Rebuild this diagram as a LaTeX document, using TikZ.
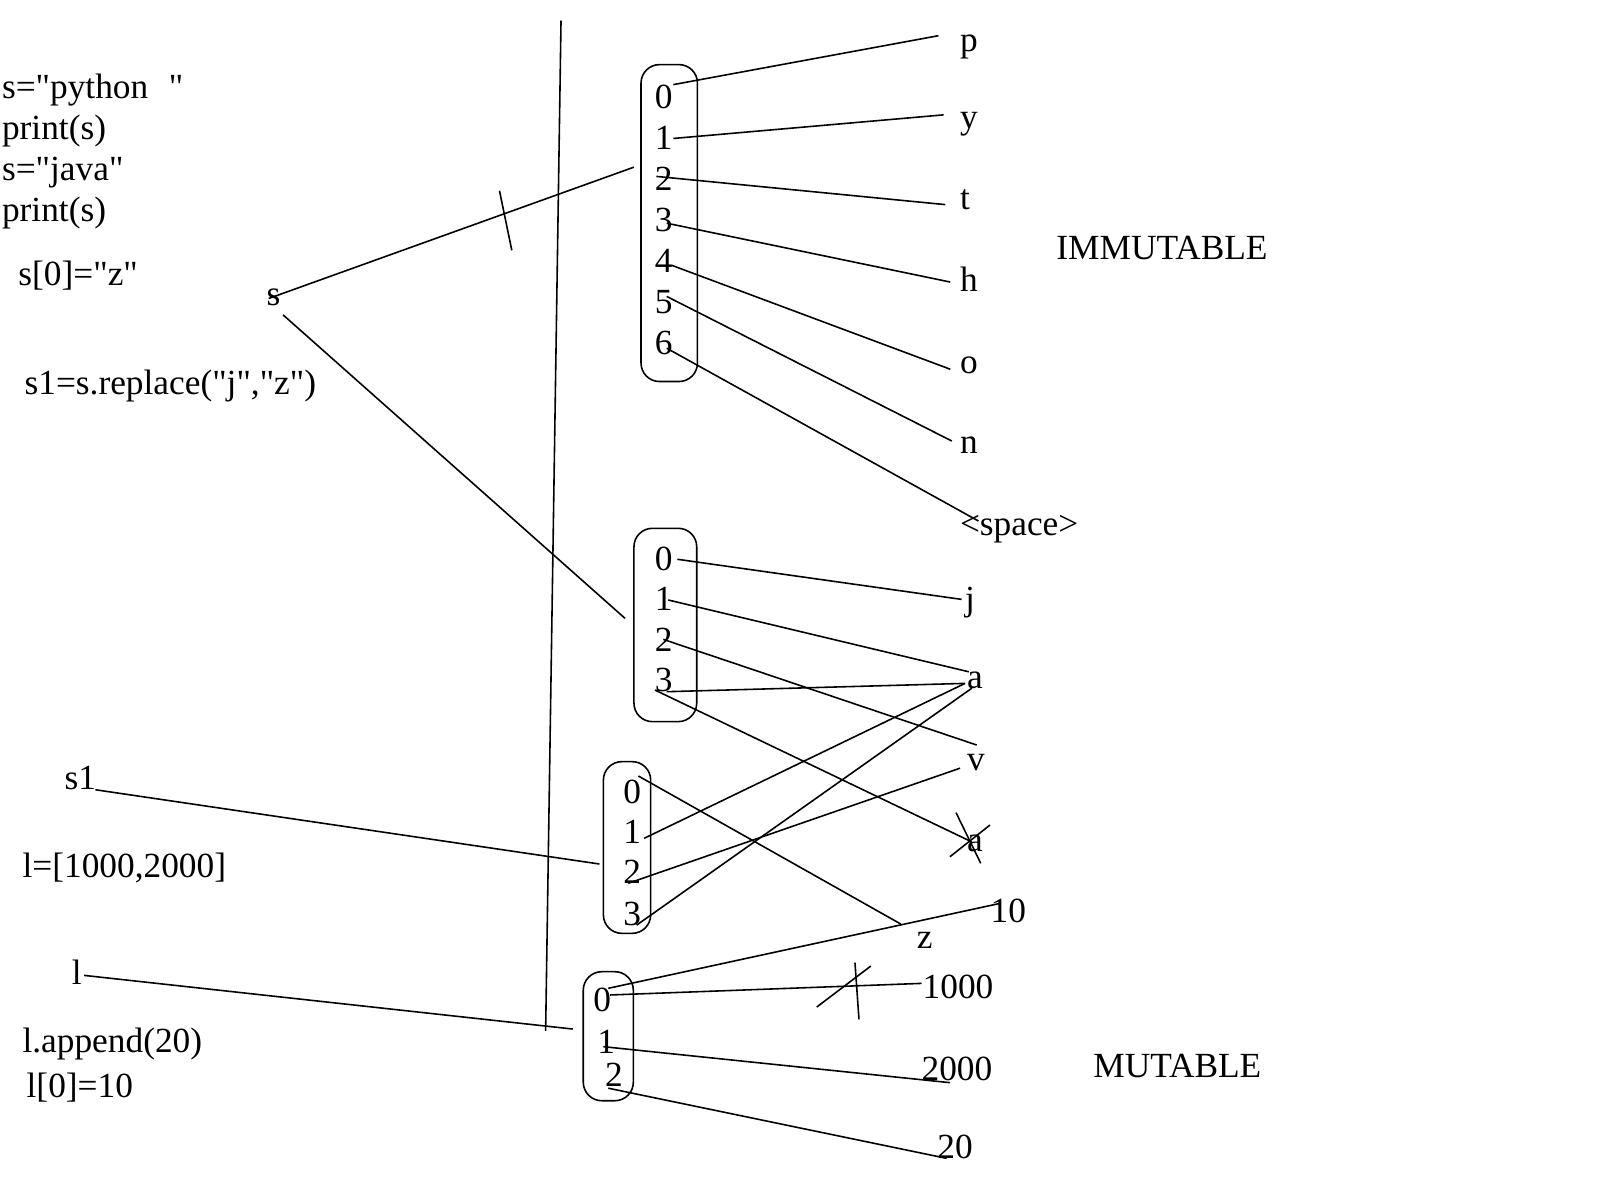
\documentclass[tikz,border=0pt]{standalone}
\usepackage{fontspec}
\setmainfont[Ligatures=TeXOff]{Liberation Serif}
\begin{document}
\begin{tikzpicture}[x=0.025cm,y=-0.025cm,
  txt/.style={inner sep=0pt,outer sep=0pt,anchor=base west,font=\fontsize{24.5}{29}\selectfont},
  link/.style={line width=1.1pt},
  box/.style={line width=1.1pt,rounded corners=0.45cm}]
\useasboundingbox (0,0) rectangle (1560,1170);

% ---- code text on the left
\node[txt] (c1) at (2,96) {s="python\hspace{0.5cm}"};
\node[txt] (c2) at (2,136) {print(s)};
\node[txt] (c3) at (2,176) {s="java"};
\node[txt] (c4) at (2,216) {print(s)};
\node[txt] (c5) at (18,278) {s[0]="z"};
\node[txt] (s) at (260,298) {s};
\node[txt] (c6) at (24,385) {s1=s.replace("j","z")};
\node[txt] (s1) at (63,770) {s1};
\node[txt] (c7) at (22,856) {l=[1000,2000]};
\node[txt] (l) at (70,960) {l};
\node[txt] (c8) at (22,1026) {l.append(20)};
\node[txt] (c9) at (26,1070) {l[0]=10};

% ---- separator line
\coordinate (vt) at (547,20);
\coordinate (vb) at (532,1005);
\draw[link] (vt) -- (vb);

% ---- box 1 : "python "
\draw[box] (625,63) rectangle (680,372);
\foreach \i/\yy in {0/106,1/146,2/186,3/226,4/266,5/306,6/346}
  \node[txt] (a\i) at (638.6,\yy) {\i};
\node[txt] (p) at (936,50.5) {p};
\node[txt] (y) at (936,125) {y};
\node[txt] (t) at (936,204) {t};
\node[txt] (h) at (936,284) {h};
\node[txt] (o) at (936,364) {o};
\node[txt] (n) at (936,442) {n};
\node[txt] (sp) at (936,522) {<space>};
\node[txt] (imm) at (1030,253) {IMMUTABLE};

\coordinate (a0e) at (656.5,82.5);  \coordinate (pe) at (915,34.8);
\coordinate (a1e) at (656.5,135);   \coordinate (ye) at (920,112);
\coordinate (a2e) at (640,172);     \coordinate (te) at (921.6,199.5);
\coordinate (a3e) at (650,217.6);   \coordinate (he) at (926.5,275);
\coordinate (a4e) at (655,258.7);   \coordinate (oe) at (926.5,360);
\coordinate (a5e) at (650,289);     \coordinate (ne) at (928,430);
\coordinate (a6e) at (650,339.5);   \coordinate (spe) at (954,508);
\draw[link] (a0e) -- (pe);
\draw[link] (a1e) -- (ye);
\draw[link] (a2e) -- (te);
\draw[link] (a3e) -- (he);
\draw[link] (a4e) -- (oe);
\draw[link] (a5e) -- (ne);
\draw[link] (a6e) -- (spe);

% ---- s references
\coordinate (sA) at (262,291);   \coordinate (sB) at (618,163);
\draw[link] (sA) -- (sB);
\coordinate (tk1) at (487,186);  \coordinate (tk2) at (499,244);
\draw[link] (tk1) -- (tk2);
\coordinate (sC) at (276,307);   \coordinate (sD) at (609.4,602.9);
\draw[link] (sC) -- (sD);

% ---- box 2 : "java"
\draw[box] (618.1,515.1) rectangle (679.3,703.6);
\foreach \i/\yy in {0/556.4,1/595.7,2/635.4,3/674.4}
  \node[txt] (b\i) at (638.6,\yy) {\i};
\node[txt] (j) at (940.9,594.8) {j};
\node[txt] (aa) at (943,671) {a};
\node[txt] (v) at (943,750.75) {v};
\node[txt] (ax) at (943,830.4) {a};

\coordinate (b0e) at (660.4,545.3);  \coordinate (je) at (937.6,584.4);
\coordinate (b1e) at (651.6,585);    \coordinate (aa1) at (944.6,655);
\coordinate (b2e) at (646.7,623.4);  \coordinate (ve1) at (952.3,726.4);
\coordinate (b3e) at (650,674.4);    \coordinate (aa2) at (940.9,666.3);
\coordinate (b3f) at (638.6,672.8);  \coordinate (axe) at (947.4,820.8);
\draw[link] (b0e) -- (je);
\draw[link] (b1e) -- (aa1);
\draw[link] (b2e) -- (ve1);
\draw[link] (b3e) -- (aa2);
\draw[link] (b3f) -- (axe);
% cross over the last "a"
\coordinate (x1a) at (932.1,792.3); \coordinate (x1b) at (956.2,841.7);
\coordinate (x2a) at (926.2,835.3); \coordinate (x2b) at (965.2,804.4);
\draw[link] (x1a) -- (x1b);
\draw[link] (x2a) -- (x2b);

% ---- box 3 : "zava"
\draw[box] (588.3,742.6) rectangle (634.4,910);
\foreach \i/\yy in {0/783,1/822,2/861,3/902}
  \node[txt] (d\i) at (607.8,\yy) {\i};
\node[txt] (z) at (894,925) {z};
\coordinate (d0e) at (622.4,756.6); \coordinate (ze) at (878.2,900.9);
\coordinate (d1e) at (628,817.4);   \coordinate (aa3) at (940.9,666.3);
\coordinate (d2e) at (612.6,861.2); \coordinate (ve2) at (936,749);
\coordinate (d3e) at (620.7,902);   \coordinate (aa4) at (947.4,671.1);
\draw[link] (d0e) -- (ze);
\draw[link] (d1e) -- (aa3);
\draw[link] (d2e) -- (ve2);
\draw[link] (d3e) -- (aa4);

\coordinate (s1e) at (93,770);  \coordinate (s1f) at (584.4,842.4);
\draw[link] (s1e) -- (s1f);

% ---- box 4 : list
\draw[box] (568.7,947.4) rectangle (617.5,1073.2);
\node[txt] (e0) at (578.5,986.4) {0};
\node[txt] (e1) at (582.4,1027) {1};
\node[txt] (e2) at (589.9,1059.5) {2};
\node[txt] (ten) at (965.9,899.6) {10};
\node[txt] (k1) at (899.6,973.4) {1000};
\node[txt] (k2) at (898.6,1053) {2000};
\node[txt] (k20) at (913.9,1129.4) {20};
\node[txt] (mut) at (1066,1051) {MUTABLE};

\coordinate (e0a) at (593.1,963.6);  \coordinate (tene) at (975,880.8);
\coordinate (e0b) at (594.8,970.1);  \coordinate (k1e) at (898.6,958.8);
\coordinate (e1e) at (588.3,1020.5); \coordinate (k2e) at (926.3,1055.6);
\coordinate (e2e) at (593.1,1061);   \coordinate (k20e) at (923,1129.4);
\draw[link] (e0a) -- (tene);
\draw[link] (e0b) -- (k1e);
\draw[link] (e1e) -- (k2e);
\draw[link] (e2e) -- (k20e);
% cross over the 1000 link
\coordinate (y1a) at (796.3,981.9); \coordinate (y1b) at (849,941.9);
\coordinate (y2a) at (833.6,938.6); \coordinate (y2b) at (837.5,993.9);
\draw[link] (y1a) -- (y1b);
\draw[link] (y2a) -- (y2b);

\coordinate (le) at (82,951);  \coordinate (lf) at (558.4,1003.3);
\draw[link] (le) -- (lf);
\end{tikzpicture}
\end{document}
